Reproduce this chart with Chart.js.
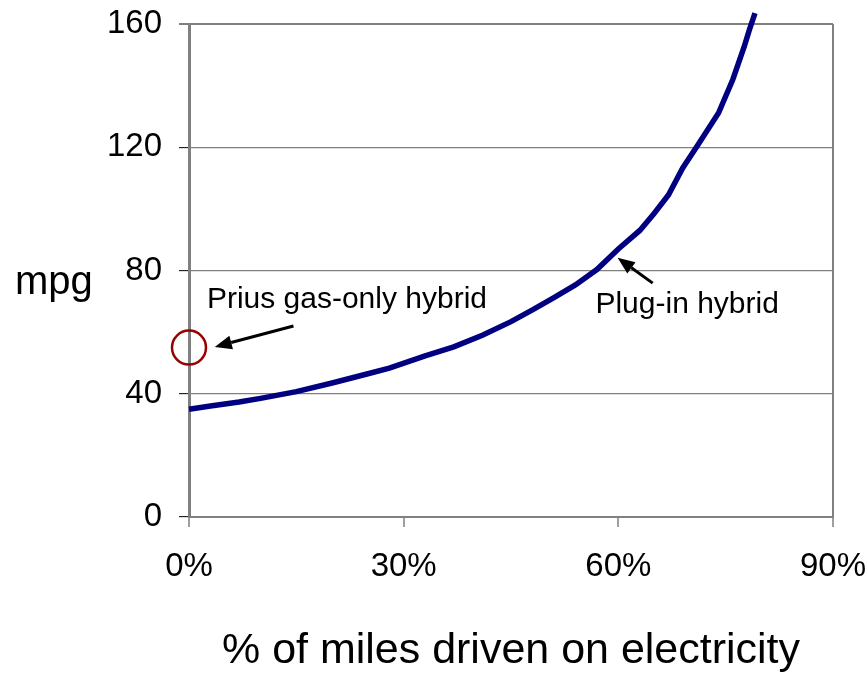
<!DOCTYPE html>
<html>
<head>
<meta charset="utf-8">
<script src="https://cdn.jsdelivr.net/npm/chart.js@4"></script>
<style>
  html, body { margin: 0; padding: 0; background: #ffffff; }
  #wrap { width: 867px; height: 674px; position: relative; }
</style>
</head>
<body>
<div id="wrap"><canvas id="c" width="867" height="674"></canvas></div>
<script>
// ---- data ----
const pctElectric = [0, 3, 7, 10, 15, 20, 25, 28, 33, 37, 41, 45, 48, 51, 54, 57, 60, 63, 65, 67, 69, 71, 74, 76, 77.6, 78.3, 79.1];
const mpgValues   = [35, 36, 37.3, 38.5, 40.7, 43.5, 46.5, 48.3, 52.3, 55.2, 59, 63.4, 67.2, 71.2, 75.3, 80.3, 87, 93, 98.5, 104.5, 113.3, 120.3, 131.1, 142, 152.7, 158, 163.5];
const priusPct = [0];
const priusMpg = [55];
const xTicks = [0, 30, 60, 90];
const yTicks = [0, 40, 80, 120, 160];
const xTitle = '% of miles driven on electricity';
const yTitle = 'mpg';
const notes = [
  { text: 'Prius gas-only hybrid', x: 2.5, y: 67.8, tailX: 14.6, tailY: 62.0, tipX: 3.6, tipY: 55.2 },
  { text: 'Plug-in hybrid', x: 56.8, y: 66.2, tailX: 64.8, tailY: 75.9, tipX: 59.9, tipY: 84.1 }
];

const FONT = '"Liberation Sans", Arial, sans-serif';

const annotate = {
  id: 'annotate',
  afterDatasetsDraw(chart) {
    const ctx = chart.ctx, xs = chart.scales.x, ys = chart.scales.y, ca = chart.chartArea;
    ctx.save();
    ctx.fillStyle = '#000';
    ctx.strokeStyle = '#000';
    ctx.font = '30px ' + FONT;
    ctx.textBaseline = 'alphabetic';
    ctx.textAlign = 'left';
    for (const n of notes) {
      ctx.fillText(n.text, xs.getPixelForValue(n.x), ys.getPixelForValue(n.y));
      const x1 = xs.getPixelForValue(n.tailX), y1 = ys.getPixelForValue(n.tailY);
      const x2 = xs.getPixelForValue(n.tipX), y2 = ys.getPixelForValue(n.tipY);
      const ang = Math.atan2(y2 - y1, x2 - x1);
      const hl = 17, hw = 7;
      const bx = x2 - hl * Math.cos(ang), by = y2 - hl * Math.sin(ang);
      ctx.lineWidth = 3;
      ctx.beginPath(); ctx.moveTo(x1, y1); ctx.lineTo(bx, by); ctx.stroke();
      ctx.beginPath();
      ctx.moveTo(x2, y2);
      ctx.lineTo(bx + hw * Math.sin(ang), by - hw * Math.cos(ang));
      ctx.lineTo(bx - hw * Math.sin(ang), by + hw * Math.cos(ang));
      ctx.closePath(); ctx.fill();
    }
    // y title (horizontal)
    ctx.font = '40px ' + FONT;
    ctx.fillText(yTitle, 15, ys.getPixelForValue(72.4));
    // x title
    ctx.font = '42px ' + FONT;
    const w = ctx.measureText(xTitle).width;
    const target = 578;
    ctx.translate((ca.left + ca.right) / 2, 663);
    ctx.scale(target / w, 1);
    ctx.textAlign = 'center';
    ctx.fillText(xTitle, 0, 0);
    ctx.restore();
  }
};

new Chart(document.getElementById('c'), {
  type: 'scatter',
  data: {
    datasets: [
      {
        data: pctElectric.map((v, i) => ({ x: v, y: mpgValues[i] })),
        showLine: true,
        borderColor: '#000080',
        borderWidth: 5.5,
        pointRadius: 0,
        tension: 0,
        clip: false
      },
      {
        data: priusPct.map((v, i) => ({ x: v, y: priusMpg[i] })),
        showLine: false,
        pointRadius: 17,
        pointBorderWidth: 2.5,
        pointBorderColor: '#990000',
        pointBackgroundColor: 'rgba(0,0,0,0)',
        clip: false
      }
    ]
  },
  options: {
    responsive: false,
    animation: false,
    layout: { padding: { top: 24, right: 34, left: 0, bottom: 0 } },
    plugins: { legend: { display: false }, tooltip: { enabled: false } },
    scales: {
      x: {
        type: 'linear', min: 0, max: 90,
        afterFit(s) { s.height = 157; s.paddingLeft = 0; s.paddingRight = 0; },
        afterBuildTicks(s) { s.ticks = xTicks.map(v => ({ value: v })); },
        ticks: {
          font: { family: FONT, size: 33 }, color: '#000', padding: 20,
          callback: v => v + '%', maxRotation: 0
        },
        grid: {
          drawOnChartArea: true,
          color: c => (c.tick && c.tick.value === 90) ? '#808080' : 'rgba(0,0,0,0)',
          lineWidth: 2,
          tickColor: '#404040', tickLength: 10, tickWidth: 1
        },
        border: { color: '#808080', width: 2 }
      },
      y: {
        type: 'linear', min: 0, max: 160,
        afterFit(s) { s.width = 189; s.paddingTop = 0; s.paddingBottom = 0; },
        afterBuildTicks(s) { s.ticks = yTicks.map(v => ({ value: v })); },
        ticks: { font: { family: FONT, size: 33 }, color: '#000', padding: 17 },
        grid: {
          color: c => (c.tick && c.tick.value === 0) ? 'rgba(0,0,0,0)' : '#808080',
          lineWidth: c => (c.tick && c.tick.value === 160) ? 2 : 1.3,
          tickColor: '#000', tickLength: 10, tickWidth: 1
        },
        border: { color: '#808080', width: 3 }
      }
    }
  },
  plugins: [annotate]
});
</script>
</body>
</html>
